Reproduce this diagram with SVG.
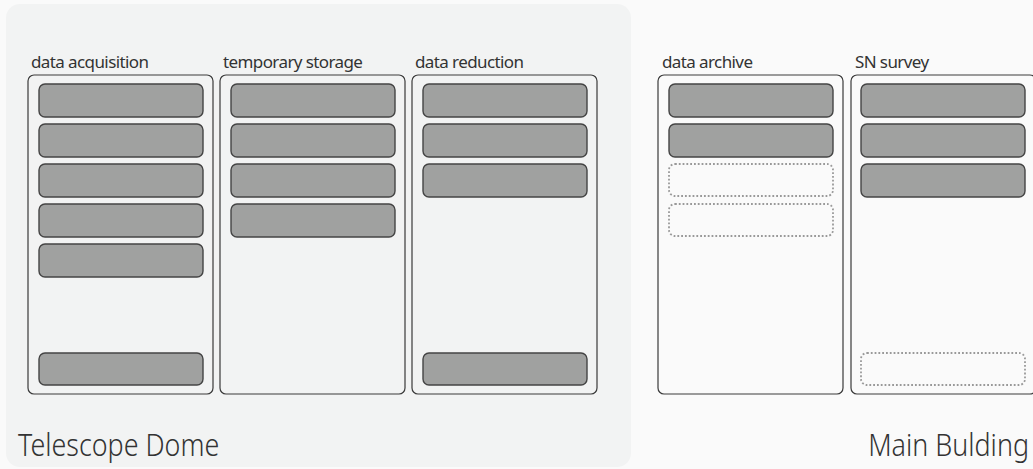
<svg xmlns="http://www.w3.org/2000/svg" width="1033" height="469" viewBox="0 0 1033 469">
<style>
.bg{fill:#fafafa}
.panel{fill:#f2f3f3}
.col{fill:none;stroke:#3a3a3a;stroke-width:1.2}
.box{fill:#a0a1a0;stroke:#444;stroke-width:1.4}
.dot{fill:none;stroke:#999;stroke-width:1.8;stroke-dasharray:1.8 2}
.lbl{font-family:"Noto Sans","Noto Sans CJK KR",sans-serif;font-size:17px;fill:#333;letter-spacing:-0.6px}
.big{font-family:"Noto Sans","Noto Sans CJK KR",sans-serif;font-size:32px;font-weight:300;fill:#333}
</style>
<rect class="bg" x="0" y="0" width="1033" height="469"/>
<g id="telescope-dome">
<rect class="panel" x="6" y="4" width="625" height="463" rx="14"/>
<text class="big" transform="translate(18,456) scale(0.84,1)" x="0" y="0">Telescope Dome</text>
</g>
<g id="main-building">
<text class="big" transform="translate(1029,456) scale(0.84,1)" x="0" y="0" text-anchor="end">Main Bulding</text>
</g>
<g id="data-acquisition">
<text class="lbl" x="31" y="68">data acquisition</text>
<rect class="col" x="28" y="75" width="185" height="319" rx="6"/>
<rect class="box" x="39" y="84" width="164" height="33" rx="6"/>
<rect class="box" x="39" y="124" width="164" height="33" rx="6"/>
<rect class="box" x="39" y="164" width="164" height="33" rx="6"/>
<rect class="box" x="39" y="204" width="164" height="33" rx="6"/>
<rect class="box" x="39" y="244" width="164" height="33" rx="6"/>
<rect class="box" x="39" y="353" width="164" height="32" rx="6"/>
</g>
<g id="temporary-storage">
<text class="lbl" x="223" y="68">temporary storage</text>
<rect class="col" x="220" y="75" width="185" height="319" rx="6"/>
<rect class="box" x="231" y="84" width="164" height="33" rx="6"/>
<rect class="box" x="231" y="124" width="164" height="33" rx="6"/>
<rect class="box" x="231" y="164" width="164" height="33" rx="6"/>
<rect class="box" x="231" y="204" width="164" height="33" rx="6"/>
</g>
<g id="data-reduction">
<text class="lbl" x="415" y="68">data reduction</text>
<rect class="col" x="412" y="75" width="185" height="319" rx="6"/>
<rect class="box" x="423" y="84" width="164" height="33" rx="6"/>
<rect class="box" x="423" y="124" width="164" height="33" rx="6"/>
<rect class="box" x="423" y="164" width="164" height="33" rx="6"/>
<rect class="box" x="423" y="353" width="164" height="32" rx="6"/>
</g>
<g id="data-archive">
<text class="lbl" x="662" y="68">data archive</text>
<rect class="col" x="658" y="75" width="185" height="319" rx="6"/>
<rect class="box" x="669" y="84" width="164" height="33" rx="6"/>
<rect class="box" x="669" y="124" width="164" height="33" rx="6"/>
<rect class="dot" x="669" y="164" width="164" height="32" rx="6"/>
<rect class="dot" x="669" y="204" width="164" height="32" rx="6"/>
</g>
<g id="sn-survey">
<text class="lbl" x="855" y="68">SN survey</text>
<rect class="col" x="851" y="75" width="185" height="319" rx="6"/>
<rect class="box" x="861" y="84" width="164" height="33" rx="6"/>
<rect class="box" x="861" y="124" width="164" height="33" rx="6"/>
<rect class="box" x="861" y="164" width="164" height="33" rx="6"/>
<rect class="dot" x="861" y="353" width="164" height="32" rx="6"/>
</g>
<g id="connectors"/>
</svg>
